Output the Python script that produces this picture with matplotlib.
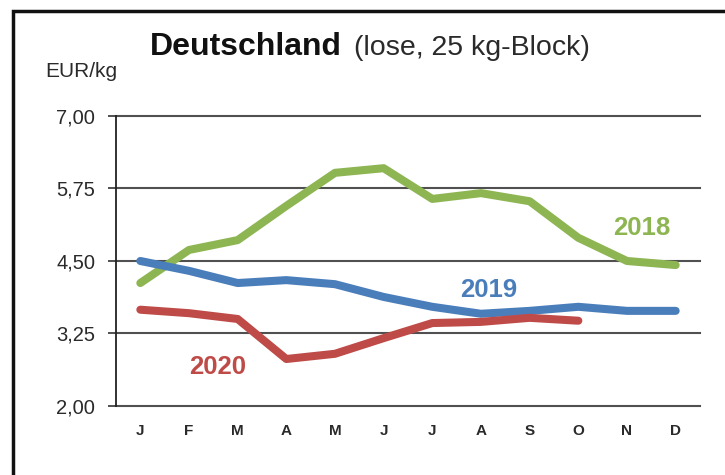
import matplotlib.pyplot as plt
from matplotlib.patches import Rectangle

plt.rcParams['font.family'] = ['Liberation Sans', 'DejaVu Sans']

months = ['J', 'F', 'M', 'A', 'M', 'J', 'J', 'A', 'S', 'O', 'N', 'D']
y2018 = [4.12, 4.69, 4.86, 5.45, 6.02, 6.10, 5.57, 5.67, 5.53, 4.90, 4.50, 4.43]
y2019 = [4.50, 4.33, 4.12, 4.17, 4.10, 3.88, 3.71, 3.59, 3.64, 3.71, 3.64, 3.64]
y2020 = [3.66, 3.60, 3.50, 2.81, 2.90, 3.17, 3.43, 3.45, 3.52, 3.47]
yticks = [2.00, 3.25, 4.50, 5.75, 7.00]
ytick_labels = ['2,00', '3,25', '4,50', '5,75', '7,00']

c18 = '#8db552'
c19 = '#4a7ebb'
c20 = '#be4b48'
txt = '#2a2a2a'

fig = plt.figure(figsize=(7.25, 4.75), dpi=100)
ax = fig.add_axes([0.16, 0.1453, 0.8055, 0.6105])

lw = 5.8
ax.plot(range(len(y2018)), y2018, color=c18, lw=lw, solid_capstyle='round', solid_joinstyle='round', zorder=3)
ax.plot(range(len(y2019)), y2019, color=c19, lw=lw, solid_capstyle='round', solid_joinstyle='round', zorder=4)
ax.plot(range(len(y2020)), y2020, color=c20, lw=lw, solid_capstyle='round', solid_joinstyle='round', zorder=5)

ax.set_xlim(-0.5, 11.5)
ax.set_ylim(2.0, 7.0)
ax.set_yticks(yticks)
ax.set_yticklabels(ytick_labels, fontsize=14.5, color=txt)
ax.set_xticks(range(12))
ax.set_xticklabels(months, fontsize=11, color=txt, fontweight='bold')
ax.tick_params(axis='x', length=0, pad=13)
ax.tick_params(axis='y', length=6, width=1.2, color='#333333', pad=9)
for v in yticks:
    ax.axhline(v, color='#505050', lw=1.5, zorder=1, clip_on=False)
for s in ['top', 'right', 'bottom']:
    ax.spines[s].set_visible(False)
ax.spines['left'].set_color('#222222')
ax.spines['left'].set_linewidth(1.3)

ax.text(10.30, 5.07, '2018', color=c18, fontsize=18.5, fontweight='bold', ha='center', va='center')
ax.text(7.16, 4.00, '2019', color=c19, fontsize=18.5, fontweight='bold', ha='center', va='center')
ax.text(1.59, 2.67, '2020', color=c20, fontsize=18.5, fontweight='bold', ha='center', va='center')

fig.text(0.207, 0.884, 'Deutschland', fontsize=23, fontweight='bold', ha='left', va='baseline', color='#111111')
fig.text(0.488, 0.884, '(lose, 25 kg-Block)', fontsize=20.5, color=txt, ha='left', va='baseline')
fig.text(0.063, 0.838, 'EUR/kg', fontsize=15, color=txt, ha='left', va='baseline')

fig.patches.append(Rectangle((0.018, -0.1), 1.1, 1.077, transform=fig.transFigure,
                             fill=False, lw=2.5, edgecolor='#111111'))

fig.savefig('out.png', dpi=100)
